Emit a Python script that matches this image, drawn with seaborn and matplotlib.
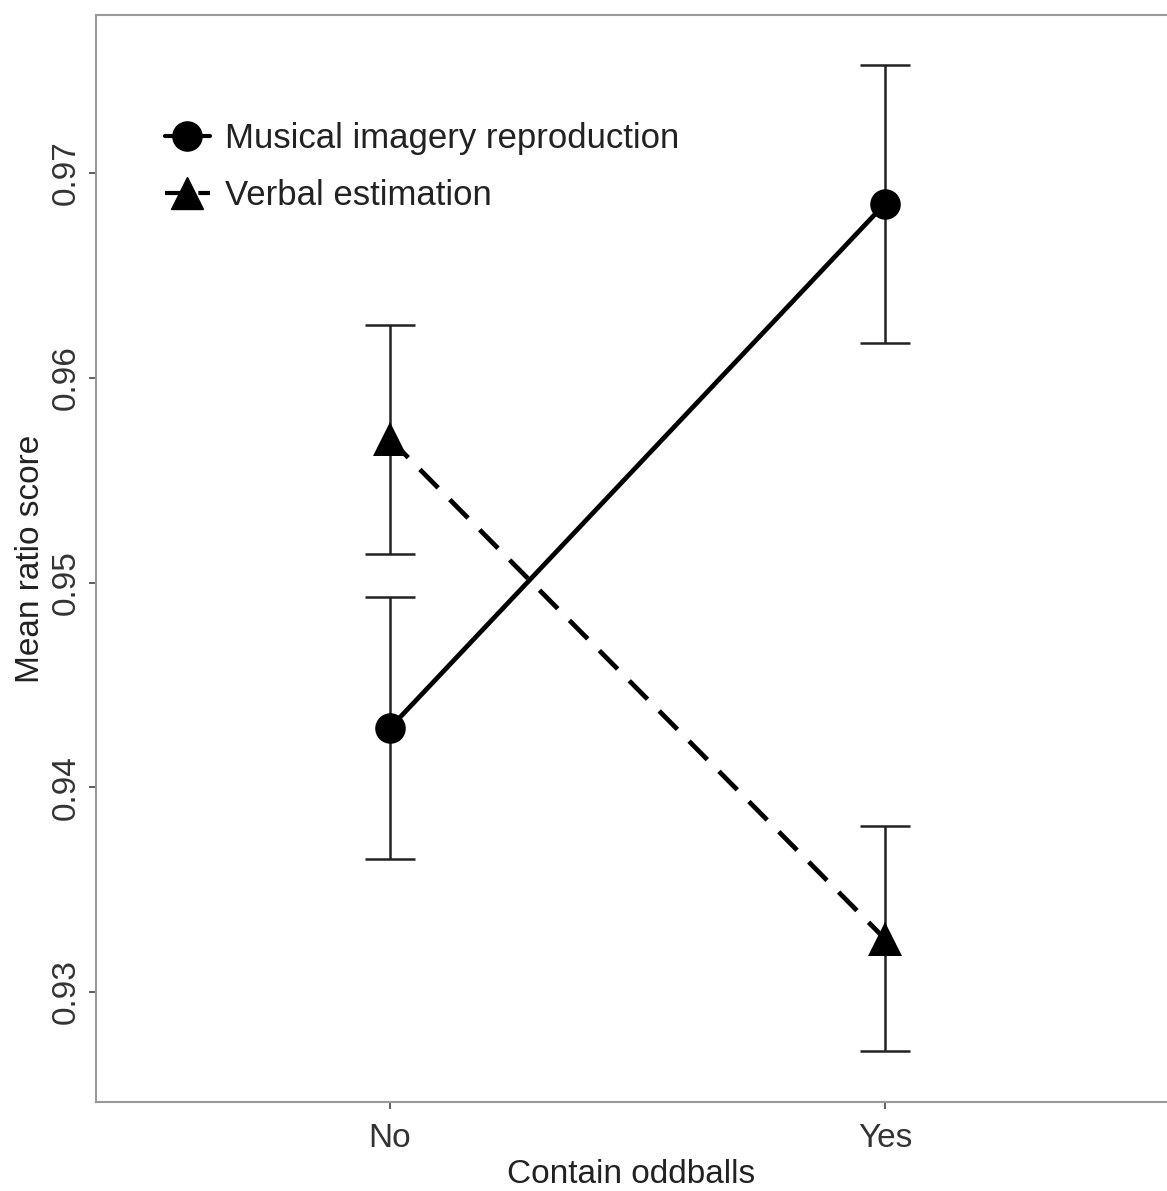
import numpy as np
import pandas as pd
import matplotlib
matplotlib.use('Agg')
import matplotlib.pyplot as plt
from matplotlib.lines import Line2D
import seaborn as sns

# данные
conditions = ['No', 'Yes']
musical_mean = [0.9429, 0.9685]
musical_err = [0.0064, 0.0068]
verbal_mean = [0.9570, 0.9326]
verbal_err = [0.0056, 0.0055]
series = ['Musical imagery reproduction', 'Verbal estimation']

sns.set_theme(style='white')
plt.rcParams['font.family'] = ['Liberation Sans', 'DejaVu Sans']

df = pd.DataFrame({
    'x': [0, 1, 0, 1],
    'score': musical_mean + verbal_mean,
    'err': musical_err + verbal_err,
    'task': [series[0]] * 2 + [series[1]] * 2,
})

fig = plt.figure(figsize=(11.67, 11.91), dpi=100)
ax = fig.add_axes([96 / 1167, 89 / 1191, 1 - 96 / 1167, (1102 - 15) / 1191])

# усы
for _, r in df.iterrows():
    ax.errorbar(r['x'], r['score'], yerr=r['err'], fmt='none', ecolor='#222222',
                elinewidth=1.8, capsize=18, capthick=1.8, zorder=1)

sns.lineplot(data=df, x='x', y='score', style='task', hue='task',
             palette=['black', 'black'], markers=['o', '^'],
             dashes=[(1, 0), (5.5, 3.5)], markersize=22, linewidth=3.4,
             markeredgewidth=0, legend=False, ax=ax, zorder=3)
# треугольники чуть крупнее
for ln in ax.lines:
    if ln.get_marker() == '^':
        ln.set_markersize(25)

ax.set_xlim(-0.594, 1.570)
ax.set_ylim(0.92463, 0.97772)
ax.set_xticks([0, 1])
ax.set_xticklabels(conditions)
ax.set_yticks([0.93, 0.94, 0.95, 0.96, 0.97])
ax.set_yticklabels(['0.93', '0.94', '0.95', '0.96', '0.97'], rotation=90, va='center')
ax.set_xlabel('Contain oddballs', fontsize=24, color='#222222', labelpad=4)
ax.set_ylabel('Mean ratio score', fontsize=24, color='#222222', labelpad=4)
ax.tick_params(axis='both', labelsize=24, labelcolor='#333333', length=5,
               width=1.2, color='#444444', direction='out', bottom=True, left=True, pad=5)
ax.tick_params(axis='x', pad=10)

for side in ['left', 'top', 'bottom']:
    ax.spines[side].set_color('#999999')
    ax.spines[side].set_linewidth(1.5)
ax.spines['right'].set_visible(False)

handles = [
    Line2D([], [], color='black', marker='o', markersize=21, linewidth=3, linestyle='-'),
    Line2D([], [], color='black', marker='^', markersize=23, linewidth=3, linestyle=(0, (5, 3))),
]
ax.legend(handles, series, loc='upper left', bbox_to_anchor=(0.035, 0.93),
          frameon=False, fontsize=25, handlelength=1.3, handletextpad=0.45,
          labelspacing=0.68, labelcolor='#222222')

fig.savefig('out.png', dpi=100)
